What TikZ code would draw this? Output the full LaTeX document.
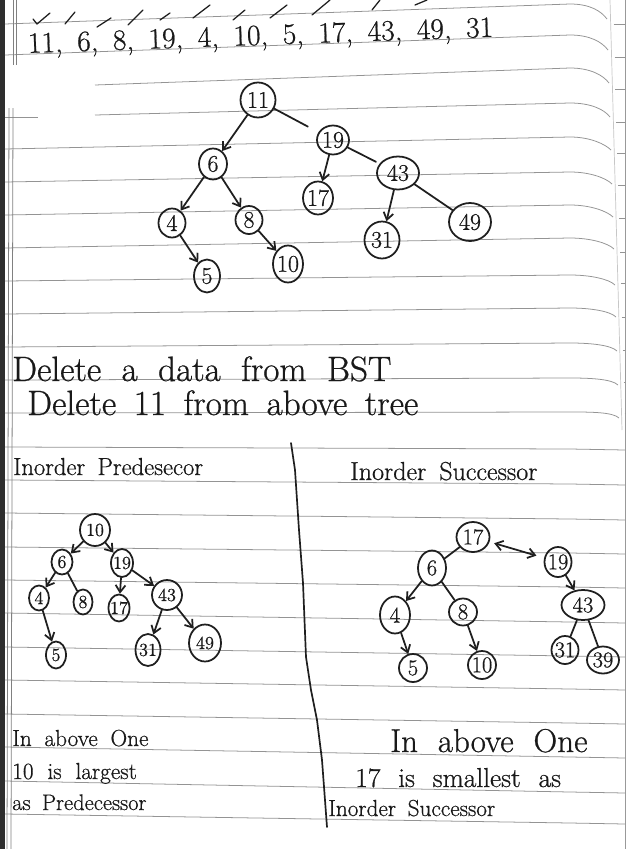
\documentclass[tikz,border=0pt]{standalone}
\usepackage{fontspec}
\setmainfont{Latin Modern Roman}[FakeBold=0.7]
\usetikzlibrary{arrows.meta,shapes.geometric}
\newcommand\zw[1]{\makebox[0pt]{#1}}
% handwritten line of text: given size, wide word gaps
\newcommand\hand[2]{\fontsize{#1}{#1}\selectfont\spaceskip=#2em\relax}
\begin{document}
\begin{tikzpicture}[x=0.025cm,y=-0.025cm,
  rule/.style={draw=black!42,line width=0.55pt},
  ink/.style={draw=black!88,line width=1.25pt,line cap=round,line join=round},
  arr/.style={ink,-{Straight Barb[length=5pt,width=7pt]}},
  darr/.style={ink,{Straight Barb[length=5pt,width=7pt]}-{Straight Barb[length=5pt,width=7pt]}},
  bn/.style={ellipse,draw=black!88,line width=1.25pt,inner sep=0pt,text=black!90},
  sz/.style 2 args={minimum width=#1*0.025cm,minimum height=#2*0.025cm},
  topt/.style={bn,font=\fontsize{17}{17}\selectfont},
  leftt/.style={bn,font=\fontsize{13}{13}\selectfont},
  rightt/.style={bn,font=\fontsize{16}{16}\selectfont},
  note/.style={anchor=base west,inner sep=0pt,text=black!90}
]
% paper
\fill[white] (0,0) rectangle (627,849);
\useasboundingbox (0,0) rectangle (627,849);
\fill[black!82] (0,0) rectangle (5,849);
\draw[black!40,line width=0.5pt] (625.5,0) -- (625.5,849);
\draw[black!22,line width=0.5pt] (610,0) -- (622,430);

% ruled lines, upper half (curling down at the page edge)
\draw[rule] (5,24) -- (570,4) .. controls (590,4) and (601,11) .. (607,19);
\draw[rule] (5,55) -- (570,35) .. controls (590,35) and (602,42) .. (608,50);
\draw[rule] (95,85) -- (570,68) .. controls (590,68) and (603,75) .. (609,83);
\draw[rule] (5,117) -- (38,117);
\draw[rule] (95,115) -- (570,103) .. controls (590,103) and (604,109) .. (610,117);
\foreach \ya/\yb/\xe/\dr in {149/137/611/13,182/172/612/12,215/205/613/12,248/238/614/11,
  281/275/615/10,314/308/616/9,347/343/617/8,380/378/618/7,413/412/619/6}
  \draw[rule] (5,\ya) -- (570,\yb) .. controls (590,\yb) and (\xe-6,\yb+\dr-6) .. (\xe,\yb+\dr);
% stubs of the next sheet beyond the edge
\foreach \y in {24,57,89,122,153,185,218,252,283,317,350,382,413}
  \draw[rule] (613+\y*0.028,\y) -- (625,\y);
% ruled lines, lower half
\foreach \ya/\yb in {447/449,480/484,513/519,547/553,580/587,613/622,647/656,680/689,
  714/723,747/757,781/792,814/823}
  \draw[rule] (5,\ya) -- (570,\yb) -- (625,\yb+1);

% margin lines
\draw[rule,draw=black!50] (13,0) -- (13,65) (16,0) -- (16,65);
\draw[rule,draw=black!50] (9,108) -- (7,849) (13,108) -- (11,849);

% ticks above the sequence
\begin{scope}[ink,line width=0.9pt]
\draw (33,19) -- (37,24) -- (50,13);
\foreach \xa/\ya/\xb/\yb in {65/24/75/12,97/27/111/18,128/25/143/10,160/20/170/13,
  193/18/210/5,233/20/245/10,270/18/287/5,312/15/330/0,372/10/380/0,415/5/427/0}
  \draw (\xa,\ya) -- (\xb,\yb);
\end{scope}

% insertion order
\node[note,rotate=2,font=\hand{21}{0.5}] (seq) at (28,53)
  {11, 6, 8, 19, 4, 10, 5, 17, 43, 49, 31};

% BST built from the sequence
\node[topt,sz={35}{35}] (t11) at (258,100) {\zw{11}};
\node[topt,sz={28}{31}] (t6)  at (213,164) {\zw{6}};
\node[topt,sz={32}{29}] (t19) at (333,140) {\zw{19}};
\node[topt,sz={42}{33}] (t43) at (398,173) {\zw{43}};
\node[topt,sz={30}{33}] (t17) at (318,198) {\zw{17}};
\node[topt,sz={42}{38}] (t49) at (470,222) {\zw{49}};
\node[topt,sz={27}{29}] (t4)  at (172,223) {\zw{4}};
\node[topt,sz={27}{28}] (t8)  at (249,220) {\zw{8}};
\node[topt,sz={35}{37}] (t31) at (382,240) {\zw{31}};
\node[topt,sz={26}{33}] (t5)  at (207,276) {\zw{5}};
\node[topt,sz={30}{37}] (t10) at (288,264) {\zw{10}};
\draw[arr] (t11) -- (t6);
\draw[ink,shorten >=0.3cm] (t11) -- (t19);
\draw[arr] (t6) -- (t4);
\draw[arr] (t6) -- (t8);
\draw[arr] (t4) -- (t5);
\draw[arr] (t8) -- (t10);
\draw[arr] (t19) -- (t17);
\draw[ink,shorten >=0.1cm] (t19) -- (t43);
\draw[arr] (t43) -- (t31);
\draw[ink] (t43) -- (t49);

% headings
\node[note,font=\hand{25}{0.58}] (h1) at (12,381) {Delete a data from BST};
\node[note,font=\hand{25}{0.5}] (h2) at (27,415) {Delete 11 from above tree};
\node[note,font=\hand{17.5}{0.5}] (hp) at (13,475) {Inorder Predesecor};
\node[note,font=\hand{18.5}{0.5}] (hs) at (350,480) {Inorder Successor};

% column divider
\draw[ink,line width=1.2pt] (291,443) -- (295,470) -- (299,530) -- (303,583) -- (306,657)
  -- (311,690) -- (317,720) -- (322,760) -- (327,827);

% tree after deleting 11 (predecessor 10 moved up)
\node[leftt,sz={30}{32}] (p10) at (95,530) {\zw{10}};
\node[leftt,sz={21}{25}] (p6)  at (62,562) {\zw{6}};
\node[leftt,sz={22}{28}] (p19) at (122,563) {\zw{19}};
\node[leftt,sz={20}{25}] (p4)  at (39,598) {\zw{4}};
\node[leftt,sz={19}{25}] (p8)  at (83,602) {\zw{8}};
\node[leftt,sz={21}{27}] (p17) at (119,608) {\zw{17}};
\node[leftt,sz={30}{30}] (p43) at (167,595) {\zw{43}};
\node[leftt,sz={20}{27}] (p5)  at (56,655) {\zw{5}};
\node[leftt,sz={25}{32}] (p31) at (148,650) {\zw{31}};
\node[leftt,sz={32}{37}] (p49) at (205,643) {\zw{49}};
\draw[arr] (p10) -- (p6);
\draw[arr] (p10) -- (p19);
\draw[arr] (p6) -- (p4);
\draw[ink] (p6) -- (p8);
\draw[arr] (p19) -- (p17);
\draw[arr] (p19) -- (p43);
\draw[arr] (p4) -- (p5);
\draw[arr] (p43) -- (p31);
\draw[arr] (p43) -- (p49);

% tree after deleting 11 (successor 17 moved up)
\node[rightt,sz={33}{30}] (s17) at (473,537) {\zw{17}};
\node[rightt,sz={27}{30}] (s19) at (558,562) {\zw{19}};
\node[rightt,sz={28}{35}] (s6)  at (432,568) {\zw{6}};
\node[rightt,sz={43}{30}] (s43) at (583,605) {\zw{43}};
\node[rightt,sz={30}{37}] (s4)  at (395,615) {\zw{4}};
\node[rightt,sz={28}{27}] (s8)  at (463,612) {\zw{8}};
\node[rightt,sz={27}{28}] (s31) at (565,650) {\zw{31}};
\node[rightt,sz={32}{27}] (s39) at (603,660) {\zw{39}};
\node[rightt,sz={28}{28}] (s5)  at (413,668) {\zw{5}};
\node[rightt,sz={28}{28}] (s10) at (482,665) {\zw{10}};
\draw[darr,shorten <=0.12cm,shorten >=0.2cm] (s17) -- (s19);
\draw[ink] (s17) -- (s6);
\draw[arr] (s19) -- (s43);
\draw[arr] (s6) -- (s4);
\draw[ink] (s6) -- (s8);
\draw[arr] (s4) -- (s5);
\draw[arr] (s8) -- (s10);
\draw[ink] (s43) -- (s31);
\draw[ink] (s43) -- (s39);

% closing remarks
\node[note,font=\hand{16.5}{0.55}] (c1) at (12,746) {In above One};
\node[note,font=\hand{16.5}{0.6}] (c2) at (12,779) {10 is largest};
\node[note,font=\hand{16}{0.5}] (c3) at (12,810) {as Predecessor};
\node[note,font=\hand{23.5}{0.6}] (d1) at (390,752) {In above One};
\node[note,font=\hand{19.5}{0.65}] (d2) at (355,787) {17 is smallest as};
\node[note,font=\hand{16.5}{0.5}] (d3) at (328,816) {Inorder Successor};
\end{tikzpicture}
\end{document}
